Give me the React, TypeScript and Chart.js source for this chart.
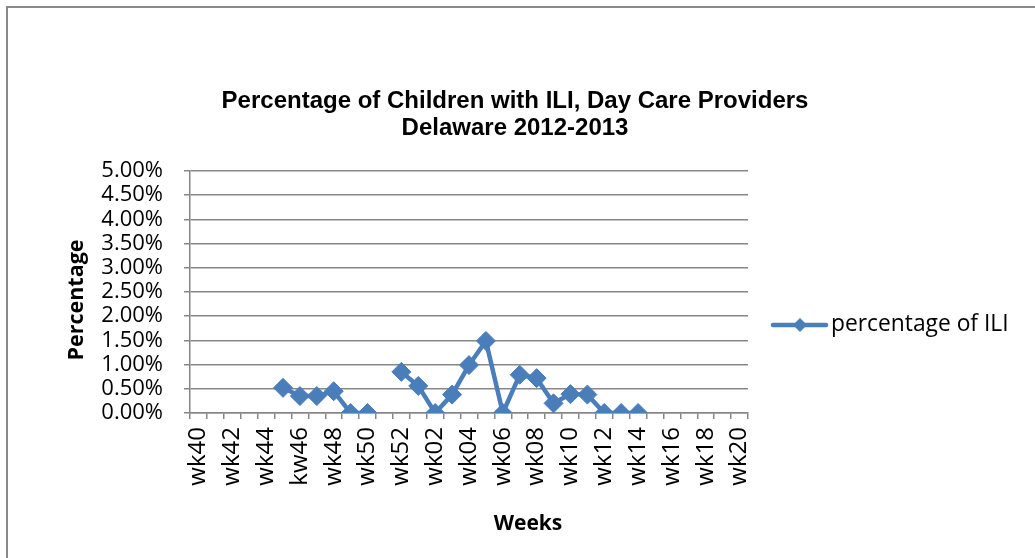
import React, { useEffect, useRef } from "react";
import { Chart, registerables } from "chart.js";

Chart.register(...registerables);

const weeks: string[] = [
  "wk40", "wk41", "wk42", "wk43", "wk44", "wk45", "kw46", "wk47", "wk48", "wk49", "wk50", "wk51", "wk52",
  "wk01", "wk02", "wk03", "wk04", "wk05", "wk06", "wk07", "wk08", "wk09", "wk10",
  "wk11", "wk12", "wk13", "wk14", "wk15", "wk16", "wk17", "wk18", "wk19", "wk20",
];

const iliPercent: (number | null)[] = [
  null, null, null, null, null, 0.52, 0.35, 0.35, 0.45, 0, 0, null, 0.85,
  0.56, 0, 0.38, 0.99, 1.49, 0, 0.79, 0.72, 0.2, 0.39,
  0.38, 0, 0, 0, null, null, null, null, null, null,
];

const seriesName = "percentage of ILI";
const titleLines = ["Percentage of Children with ILI, Day Care Providers", "Delaware 2012-2013"];
const yTitle = "Percentage";
const xTitle = "Weeks";

const BLUE = "#4a7ebb";
const GRID = "#878787";
const BODY_FONT = "'Open Sans', sans-serif";

export default function App() {
  const ref = useRef<HTMLCanvasElement | null>(null);

  useEffect(() => {
    if (!ref.current) return;
    const decor = {
      id: "decor",
      beforeDraw(chart: any) {
        const ctx = chart.ctx;
        ctx.save();
        ctx.fillStyle = "#ffffff";
        ctx.fillRect(0, 0, chart.width, chart.height);
        ctx.strokeStyle = "#8a8a8a";
        ctx.lineWidth = 2;
        ctx.beginPath();
        ctx.moveTo(7, chart.height + 5);
        ctx.lineTo(7, 7);
        ctx.lineTo(chart.width + 5, 7);
        ctx.stroke();
        ctx.restore();
      },
      afterDraw(chart: any) {
        const ctx = chart.ctx;
        const area = chart.chartArea;
        ctx.save();
        ctx.fillStyle = "#000000";
        ctx.textAlign = "center";
        ctx.textBaseline = "middle";
        ctx.font = "bold 24px 'Liberation Sans', Arial, sans-serif";
        ctx.fillText(titleLines[0], 515, 101);
        ctx.fillText(titleLines[1], 515, 128);

        ctx.font = "bold 21px " + BODY_FONT;
        ctx.fillText(xTitle, 528, 524);
        ctx.save();
        ctx.font = "bold 21.5px " + BODY_FONT;
        ctx.translate(77, (area.top + area.bottom) / 2 + 8);
        ctx.rotate(-Math.PI / 2);
        ctx.fillText(yTitle, 0, 0);
        ctx.restore();

        // legend
        const ly = 325;
        ctx.strokeStyle = BLUE;
        ctx.lineWidth = 4.5;
        ctx.lineCap = "round";
        ctx.beginPath();
        ctx.moveTo(773, ly);
        ctx.lineTo(826, ly);
        ctx.stroke();
        ctx.fillStyle = BLUE;
        ctx.beginPath();
        ctx.moveTo(800, ly - 7);
        ctx.lineTo(807, ly);
        ctx.lineTo(800, ly + 7);
        ctx.lineTo(793, ly);
        ctx.closePath();
        ctx.fill();
        ctx.fillStyle = "#000000";
        ctx.textAlign = "left";
        ctx.font = "22.8px " + BODY_FONT;
        ctx.fillText(seriesName, 831, ly);
        ctx.restore();
      },
    };

    const chart = new Chart(ref.current, {
      type: "line",
      data: {
        labels: weeks,
        datasets: [
          {
            label: seriesName,
            data: iliPercent,
            borderColor: BLUE,
            backgroundColor: BLUE,
            borderWidth: 4.5,
            pointStyle: "rectRot",
            pointRadius: 9.5,
            pointBackgroundColor: BLUE,
            pointBorderColor: BLUE,
            pointBorderWidth: 1,
            spanGaps: false,
            tension: 0,
          },
        ],
      },
      options: {
        responsive: false,
        animation: false,
        devicePixelRatio: 1,
        layout: { padding: { left: 0, top: 171, right: 287, bottom: 45 } },
        plugins: {
          legend: { display: false },
          title: { display: false },
          tooltip: { enabled: false },
        },
        scales: {
          x: {
            type: "category",
            offset: true,
            afterFit: (s: any) => {
              s.height = 100;
            },
            grid: {
              offset: true,
              drawOnChartArea: false,
              drawTicks: true,
              tickLength: 6,
              color: GRID,
              lineWidth: 1.5,
            },
            border: { display: true, color: GRID, width: 1.5 },
            ticks: {
              autoSkip: false,
              maxRotation: 90,
              minRotation: 90,
              padding: 8,
              color: "#000000",
              font: { family: BODY_FONT, size: 24 },
              callback: (_v: any, i: number) => (i % 2 === 0 ? weeks[i] : ""),
            },
          },
          y: {
            min: 0,
            max: 5,
            afterFit: (s: any) => {
              s.width = 190;
            },
            grid: {
              color: GRID,
              lineWidth: 1.5,
              drawTicks: true,
              tickLength: 6,
            },
            border: { display: true, color: GRID, width: 1.5 },
            ticks: {
              stepSize: 0.5,
              autoSkip: false,
              padding: 21,
              color: "#000000",
              font: { family: BODY_FONT, size: 22 },
              callback: (v: any) => Number(v).toFixed(2) + "%",
            },
          },
        },
      },
      plugins: [decor],
    });
    return () => chart.destroy();
  }, []);

  return (
    <div style={{ position: "absolute", left: 0, top: 0, width: 1035, height: 558 }}>
      <canvas ref={ref} width={1035} height={558} style={{ display: "block" }} />
    </div>
  );
}
